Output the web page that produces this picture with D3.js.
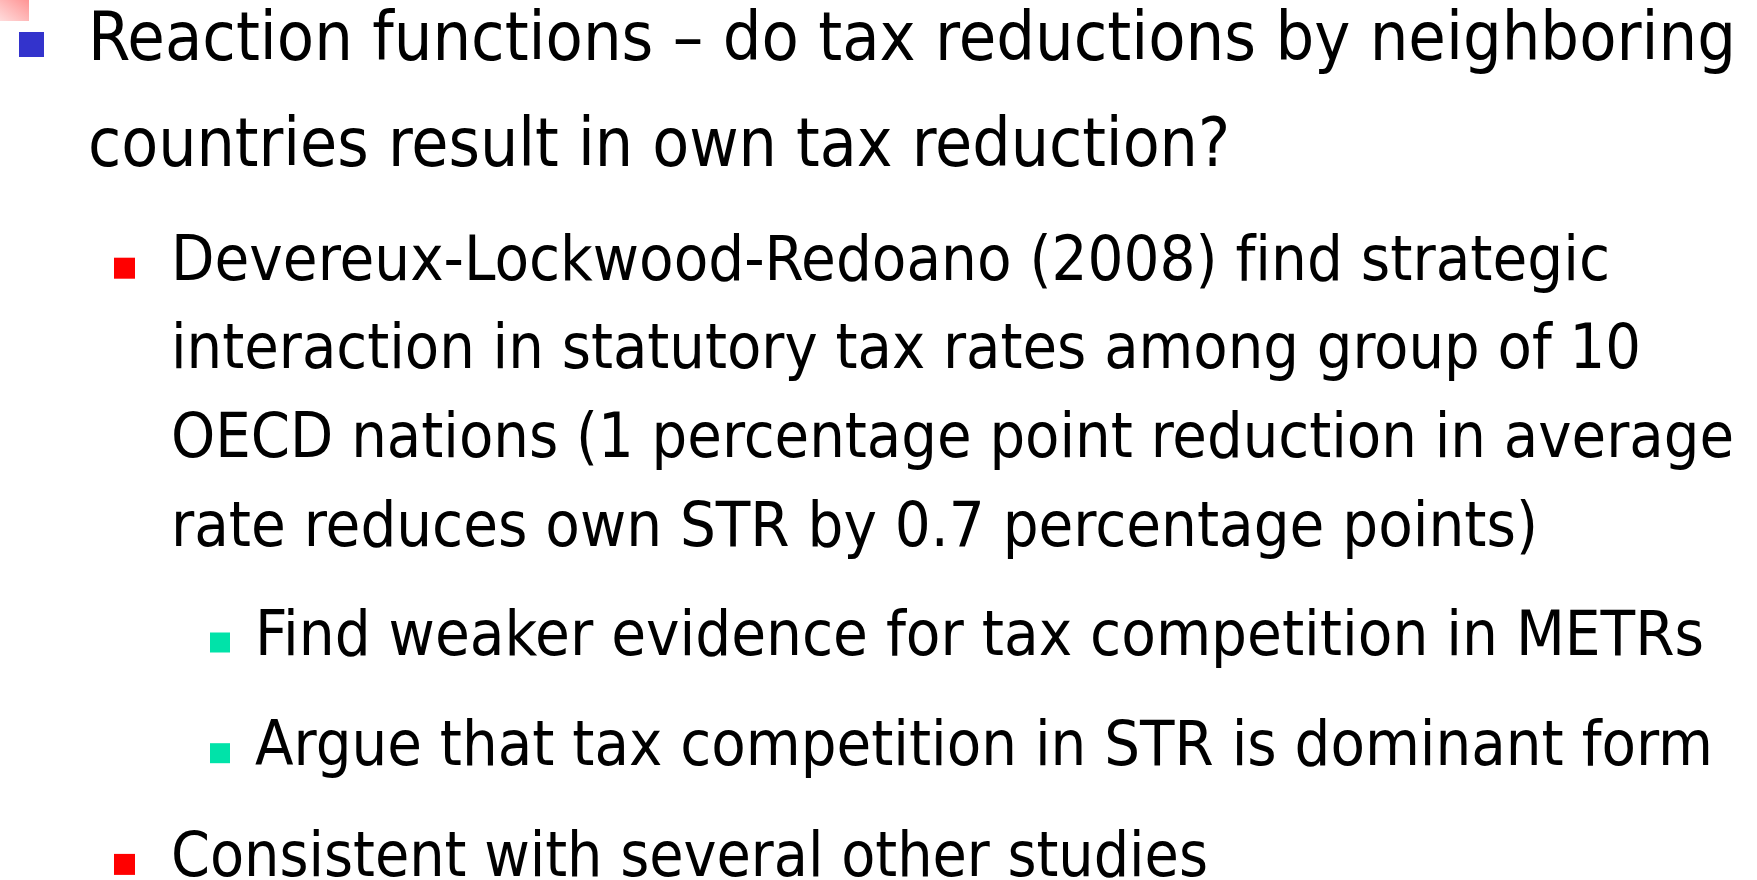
<!DOCTYPE html>
<html>
<head>
<meta charset="utf-8">
<script src="https://cdn.jsdelivr.net/npm/d3@7"></script>
<style>
  body { margin: 0; background: #fff; overflow: hidden; }
  text { font-family: "DejaVu Sans Condensed", "DejaVu Sans", sans-serif; fill: #000;
         font-variant-ligatures: none; font-feature-settings: "liga" 0; }
</style>
</head>
<body>
<div class="slide"></div>
<script>
// slide content: one entry per bullet, lines wrapped as on the slide
var levels = [1, 2, 3, 3, 2];
var paragraphs = [
    ["Reaction functions \u2013 do tax reductions by neighboring",
     "countries result in own tax reduction?"],
    ["Devereux-Lockwood-Redoano (2008) find strategic",
     "interaction in statutory tax rates among group of 10",
     "OECD nations (1 percentage point reduction in average",
     "rate reduces own STR by 0.7 percentage points)"],
    ["Find weaker evidence for tax competition in METRs"],
    ["Argue that tax competition in STR is dominant form"],
    ["Consistent with several other studies"]
];
// right edge of each line as measured on the slide
var lineEnds = [
    [1736, 1230],
    [1610, 1641, 1734, 1538],
    [1704],
    [1713],
    [1208]
];

// Set the variables for height and width
var svgWidth = 1757;
var svgHeight = 880;

// per-level styles
var levelKeys = [1, 2, 3];
var textX = d3.scaleOrdinal().domain(levelKeys).range([88, 171, 255]);
var fontSize = d3.scaleOrdinal().domain(levelKeys).range([67, 62, 62]);
var lineStep = d3.scaleOrdinal().domain(levelKeys).range([106, 88.7, 88.7]);
var spaceAfter = d3.scaleOrdinal().domain(levelKeys).range([25, 20, 22]);
var bulletColor = d3.scaleOrdinal().domain(levelKeys).range(["#3333cc", "#ff0000", "#00e3a9"]);
var bulletX = d3.scaleOrdinal().domain(levelKeys).range([19, 114, 210]);
var bulletSize = d3.scaleOrdinal().domain(levelKeys).range([25, 21, 20]);
var bulletRise = d3.scaleOrdinal().domain(levelKeys).range([28, 22, 22]);

// build the line table
var lines = [];
var y = 60;
paragraphs.forEach(function(p, i) {
    var lvl = levels[i];
    if (i > 0) y += lineStep(lvl) + spaceAfter(levels[i - 1]);
    p.forEach(function(t, j) {
        if (j > 0) y += lineStep(lvl);
        lines.push({ text: t, level: lvl, y: y, first: j === 0, end: lineEnds[i][j] });
    });
});

var svg = d3.select(".slide")
    .append("svg")
    .attr("width", svgWidth)
    .attr("height", svgHeight);

// pink corner decoration
var grad = svg.append("defs").append("linearGradient")
    .attr("id", "corner")
    .attr("x1", "100%").attr("y1", "0%")
    .attr("x2", "0%").attr("y2", "100%");
grad.append("stop").attr("offset", "0%").attr("stop-color", "#ff9494");
grad.append("stop").attr("offset", "100%").attr("stop-color", "#ffdcdc");

svg.append("rect")
    .attr("x", 0).attr("y", 0)
    .attr("width", 29).attr("height", 21)
    .attr("fill", "url(#corner)");

// bullets
svg.selectAll("rect.bullet")
    .data(lines.filter(d => d.first))
    .enter()
    .append("rect")
    .attr("class", "bullet")
    .attr("x", d => bulletX(d.level))
    .attr("y", d => d.y - bulletRise(d.level))
    .attr("width", d => bulletSize(d.level))
    .attr("height", d => bulletSize(d.level))
    .attr("fill", d => bulletColor(d.level));

// text lines
svg.selectAll("text.line")
    .data(lines)
    .enter()
    .append("text")
    .attr("class", "line")
    .attr("x", d => textX(d.level))
    .attr("y", d => d.y)
    .attr("font-size", d => fontSize(d.level))
    .attr("textLength", d => d.end - textX(d.level))
    .attr("lengthAdjust", "spacingAndGlyphs")
    .text(d => d.text);
</script>
</body>
</html>
